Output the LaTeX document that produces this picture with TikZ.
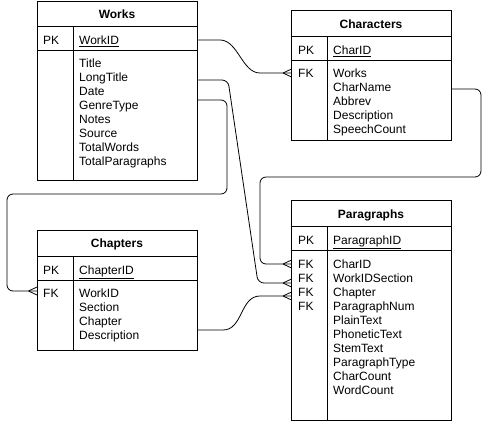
\documentclass[tikz,border=0pt]{standalone}
\usepackage{fontspec}
\setmainfont{Liberation Sans}
\tikzset{
  tablebox/.style={draw, line width=1pt},
  title/.style={anchor=base, inner sep=0pt, font=\fontsize{12}{14}\selectfont\bfseries},
  field/.style={anchor=base west, inner sep=0pt},
  link/.style={line width=0.8pt, rounded corners=6pt},
  curvelink/.style={line width=0.8pt},
  crowfoot/.pic={\draw[line width=0.8pt] (-8.5pt,0) -- (0,4pt) (-8.5pt,0) -- (0,-4pt);},
}
\begin{document}
\begin{tikzpicture}[x=1pt,y=-1pt, every node/.style={font=\fontsize{12}{14}\selectfont}]
  \useasboundingbox (0,0) rectangle (490,424);
  %Works table
  \draw[tablebox] (37,1) rectangle (197,180);
  \draw[tablebox] (37,26) -- (197,26) (37,50) -- (197,50) (73,26) -- (73,180);
  \node[title] (works) at (117,18.5) {Works};
  \node[field] (works-pk) at (43,44.5) {PK};
  \node[field] (works-id) at (79,44.5) {\underline{WorkID}};
  \node[field] (works-f1) at (79,67.5) {Title};
  \node[field] (works-f2) at (79,81.5) {LongTitle};
  \node[field] (works-f3) at (79,95.5) {Date};
  \node[field] (works-f4) at (79,109.5) {GenreType};
  \node[field] (works-f5) at (79,123.5) {Notes};
  \node[field] (works-f6) at (79,137.5) {Source};
  \node[field] (works-f7) at (79,151.5) {TotalWords};
  \node[field] (works-f8) at (79,165.5) {TotalParagraphs};

  %Characters table
  \draw[tablebox] (291.5,10.5) rectangle (451,140);
  \draw[tablebox] (291.5,36.5) -- (451,36.5) (291.5,60.5) -- (451,60.5) (327,36.5) -- (327,140);
  \node[title] (chars) at (371,28.5) {Characters};
  \node[field] (chars-pk) at (298,54.5) {PK};
  \node[field] (chars-id) at (333,54.5) {\underline{CharID}};
  \node[field] (chars-fk) at (298,77.5) {FK};
  \node[field] (chars-f1) at (333,77.5) {Works};
  \node[field] (chars-f2) at (333,91.5) {CharName};
  \node[field] (chars-f3) at (333,105.5) {Abbrev};
  \node[field] (chars-f4) at (333,119.5) {Description};
  \node[field] (chars-f5) at (333,133.5) {SpeechCount};

  %Chapters table
  \draw[tablebox] (37,230.5) rectangle (197,350);
  \draw[tablebox] (37,256) -- (197,256) (37,280) -- (197,280) (73,256) -- (73,350);
  \node[title] (chaps) at (117,247.5) {Chapters};
  \node[field] (chaps-pk) at (43,274.5) {PK};
  \node[field] (chaps-id) at (79,274.5) {\underline{ChapterID}};
  \node[field] (chaps-fk) at (43,297.5) {FK};
  \node[field] (chaps-f1) at (79,297.5) {WorkID};
  \node[field] (chaps-f2) at (79,311.5) {Section};
  \node[field] (chaps-f3) at (79,325.5) {Chapter};
  \node[field] (chaps-f4) at (79,339.5) {Description};

  %Paragraphs table
  \draw[tablebox] (291.5,200.5) rectangle (451,420);
  \draw[tablebox] (291.5,226) -- (451,226) (291.5,250.5) -- (451,250.5) (327,226) -- (327,420);
  \node[title] (paras) at (371,218.5) {Paragraphs};
  \node[field] (paras-pk) at (298,244.5) {PK};
  \node[field] (paras-id) at (333,244.5) {\underline{ParagraphID}};
  \node[field] (paras-fk1) at (298,268.5) {FK};
  \node[field] (paras-fk2) at (298,282.5) {FK};
  \node[field] (paras-fk3) at (298,296.5) {FK};
  \node[field] (paras-fk4) at (298,310.5) {FK};
  \node[field] (paras-f1) at (333,268.5) {CharID};
  \node[field] (paras-f2) at (333,282.5) {WorkIDSection};
  \node[field] (paras-f3) at (333,296.5) {Chapter};
  \node[field] (paras-f4) at (333,310.5) {ParagraphNum};
  \node[field] (paras-f5) at (333,324.5) {PlainText};
  \node[field] (paras-f6) at (333,338.5) {PhoneticText};
  \node[field] (paras-f7) at (333,352.5) {StemText};
  \node[field] (paras-f8) at (333,366.5) {ParagraphType};
  \node[field] (paras-f9) at (333,380.5) {CharCount};
  \node[field] (paras-f10) at (333,394.5) {WordCount};

  %Ports of the relations
  \coordinate (wk-id) at (197,40);
  \coordinate (wk-long) at (197,80);
  \coordinate (wk-genre) at (197,100);
  \coordinate (ch-fk) at (291.5,73);
  \coordinate (ch-name) at (451,89);
  \coordinate (cp-fk) at (37,291);
  \coordinate (cp-desc) at (197,330);
  \coordinate (pg-char) at (291.5,264);
  \coordinate (pg-work) at (291.5,283);
  \coordinate (pg-chap) at (291.5,296);

  %Relations
  \draw[curvelink] (wk-id) -- (220,40) .. controls (238,40) and (242,73) .. (260,73) -- (ch-fk);
  \draw[link] (wk-long) -- (228,80) -- (258,283) -- (pg-work);
  \draw[link] (wk-genre) -- (227,100) -- (227,194) -- (7,194) |- (cp-fk);
  \draw[link] (ch-name) -- (481,89) -- (481,177) -- (260,177) |- (pg-char);
  \draw[curvelink] (cp-desc) -- (223,330) .. controls (243,330) and (240,296) .. (260,296) -- (pg-chap);

  %Many ends
  \pic at (ch-fk) {crowfoot};
  \pic at (cp-fk) {crowfoot};
  \pic at (pg-char) {crowfoot};
  \pic at (pg-work) {crowfoot};
  \pic at (pg-chap) {crowfoot};
\end{tikzpicture}
\end{document}
